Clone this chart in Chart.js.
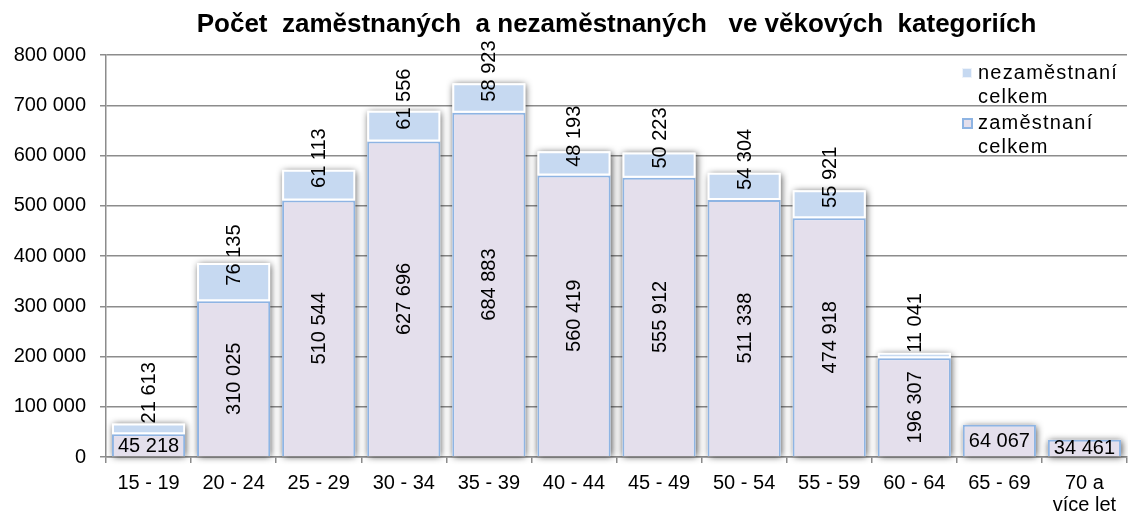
<!DOCTYPE html>
<html>
<head>
<meta charset="utf-8">
<script src="https://cdn.jsdelivr.net/npm/chart.js@4.4.0/dist/chart.umd.min.js"></script>
<style>
  html, body { margin: 0; padding: 0; background: #fff; }
</style>
</head>
<body>
<canvas id="chart" width="1128" height="516"></canvas>
<script>
const titleText = "Počet  zaměstnaných  a nezaměstnaných   ve věkových  kategoriích";
const categories = ["15 - 19", "20 - 24", "25 - 29", "30 - 34", "35 - 39", "40 - 44",
  "45 - 49", "50 - 54", "55 - 59", "60 - 64", "65 - 69", ["70 a", "více let"]];
const employed = [45218, 310025, 510544, 627696, 684883, 560419, 555912, 511338, 474918, 196307, 64067, 34461];
const unemployed = [21613, 76135, 61113, 61556, 58923, 48193, 50223, 54304, 55921, 11041, null, null];
const employedLabel = "zaměstnaní celkem";
const unemployedLabel = "nezaměstnaní celkem";

const FONT = "'Liberation Sans', Arial, sans-serif";
const gridColor = "#8c8c8c";
const empFill = "#e4dfec";
const empBorder = "#8eb4e3";
const unempFill = "#c6d9f1";

const fmt = v => String(v).replace(/\B(?=(\d{3})+(?!\d))/g, " ");

// text with a little extra space between letters
function spacedText(ctx, txt, x, y, gap) {
  for (const ch of txt) {
    ctx.fillText(ch, x, y);
    x += ctx.measureText(ch).width + gap;
  }
}

// soft shadow behind each stacked column
const barShadow = {
  id: "barShadow",
  beforeDatasetsDraw(chart) {
    const ctx = chart.ctx;
    const low = chart.getDatasetMeta(0).data;
    const high = chart.getDatasetMeta(1).data;
    ctx.save();
    ctx.shadowColor = "rgba(0,0,0,0.7)";
    ctx.shadowBlur = 7;
    ctx.shadowOffsetX = 1;
    ctx.shadowOffsetY = 1;
    ctx.fillStyle = "#fff";
    low.forEach((b, i) => {
      const t = unemployed[i] ? high[i] : b;
      ctx.fillRect(b.x - b.width / 2, t.y, b.width, b.base - t.y);
    });
    ctx.restore();
  }
};

const barLabels = {
  id: "barLabels",
  afterDatasetsDraw(chart) {
    const ctx = chart.ctx;
    ctx.save();
    ctx.font = "20px " + FONT;
    ctx.fillStyle = "#000";
    ctx.textAlign = "center";
    ctx.textBaseline = "middle";
    chart.data.datasets.forEach((ds, di) => {
      chart.getDatasetMeta(di).data.forEach((bar, i) => {
        const v = ds.data[i];
        if (v == null) return;
        const txt = fmt(v);
        const w = ctx.measureText(txt).width;
        const h = bar.base - bar.y;
        let cy = (bar.y + bar.base) / 2;
        let rotate = true;
        if (di === 0) {
          if (h < w + 10) rotate = false;
        } else {
          cy = h < 20 ? bar.y - w / 2 : cy - 27;
        }
        ctx.save();
        ctx.translate(bar.x, cy);
        if (rotate) ctx.rotate(-Math.PI / 2);
        ctx.fillText(txt, 0, 1);
        ctx.restore();
      });
    });
    ctx.restore();
  }
};

const sideLegend = {
  id: "sideLegend",
  afterDraw(chart) {
    const ctx = chart.ctx;
    const area = chart.chartArea;
    const mx = area.right - 165;
    ctx.save();
    ctx.font = "20px " + FONT;
    ctx.textBaseline = "middle";
    [1, 0].forEach((di, k) => {
      const ds = chart.data.datasets[di];
      const y = area.top + 18 + k * 50;
      if (di === 1) {
        ctx.fillStyle = unempFill;
        ctx.fillRect(mx, y - 5, 10, 10);
        ctx.strokeStyle = "#eef3fa";
        ctx.lineWidth = 1;
        ctx.strokeRect(mx + 0.5, y - 4.5, 9, 9);
      } else {
        ctx.fillStyle = empFill;
        ctx.fillRect(mx, y - 5, 11, 11);
        ctx.strokeStyle = empBorder;
        ctx.lineWidth = 2;
        ctx.strokeRect(mx + 1, y - 4, 9, 9);
      }
      ctx.fillStyle = "#000";
      ds.label.split(" ").forEach((line, j) => {
        spacedText(ctx, line, mx + 16, y + j * 24, 1.2);
      });
    });
    ctx.restore();
  }
};

const centeredTitle = {
  id: "centeredTitle",
  afterDraw(chart) {
    const { ctx, chartArea } = chart;
    ctx.save();
    ctx.font = "bold 26px " + FONT;
    ctx.fillStyle = "#000";
    ctx.textAlign = "center";
    ctx.textBaseline = "alphabetic";
    ctx.fillText(titleText, (chartArea.left + chartArea.right) / 2, 32);
    ctx.restore();
  }
};

new Chart(document.getElementById("chart"), {
  type: "bar",
  data: {
    labels: categories,
    datasets: [
      {
        label: employedLabel,
        data: employed,
        backgroundColor: empFill,
        borderColor: empBorder,
        borderWidth: { left: 2, right: 2, top: 2, bottom: 0 },
        borderSkipped: false,
        barPercentage: 0.86,
        categoryPercentage: 1
      },
      {
        label: unemployedLabel,
        data: unemployed,
        backgroundColor: unempFill,
        borderColor: "#ffffff",
        borderWidth: 2,
        borderSkipped: false,
        barPercentage: 0.86,
        categoryPercentage: 1
      }
    ]
  },
  options: {
    responsive: false,
    animation: false,
    layout: { padding: { top: 55, left: 14, right: 1, bottom: 0 } },
    plugins: {
      legend: { display: false },
      title: { display: false },
      tooltip: { enabled: false }
    },
    scales: {
      x: {
        stacked: true,
        afterFit: s => { s.height = 59; },
        border: { color: gridColor, width: 1.5 },
        grid: { drawOnChartArea: false, color: gridColor, tickLength: 6, lineWidth: 1.5 },
        ticks: { color: "#000", font: { family: FONT, size: 20, lineHeight: 1.1 }, padding: 9, maxRotation: 0, autoSkip: false }
      },
      y: {
        stacked: true,
        min: 0,
        max: 800000,
        afterFit: s => { s.width = 92; },
        border: { color: gridColor, width: 1.5 },
        grid: { color: gridColor, tickLength: 6, lineWidth: 1.5 },
        ticks: { stepSize: 100000, color: "#000", font: { family: FONT, size: 20 }, padding: 14, callback: v => fmt(v) }
      }
    }
  },
  plugins: [barShadow, barLabels, sideLegend, centeredTitle]
});
</script>
</body>
</html>
